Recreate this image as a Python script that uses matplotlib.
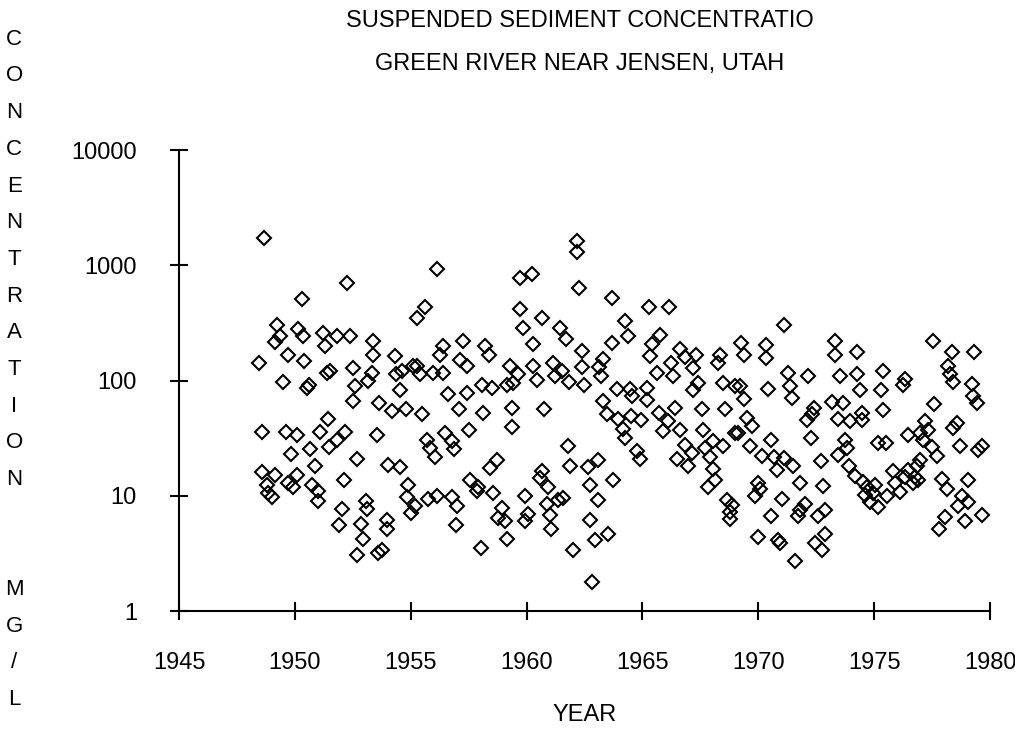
"""Suspended sediment concentration, Green River near Jensen, Utah (log scatter)."""

import matplotlib

matplotlib.use("Agg")

import matplotlib.pyplot as plt
from matplotlib.ticker import NullLocator

plt.rcParams["font.family"] = ["Liberation Sans", "DejaVu Sans"]

# sample dates (decimal year) and concentrations (mg/L)
year = [
    1948.68, 1950.30, 1949.24, 1949.36, 1949.14, 1950.15, 1950.34, 1951.20, 1951.30, 1949.72,
    1950.41, 1948.45, 1951.37, 1951.52, 1949.50, 1950.62, 1950.51, 1948.57, 1949.61, 1950.08,
    1951.09, 1951.44, 1951.49, 1949.83, 1950.65, 1950.87, 1948.57, 1949.14, 1948.79, 1948.85,
    1949.00, 1949.72, 1950.08, 1949.93, 1950.73, 1951.01, 1950.99,
    1952.24, 1956.15, 1955.62, 1955.26, 1951.81, 1952.38, 1953.39, 1953.39, 1954.32, 1954.61,
    1954.37, 1955.26, 1955.40, 1955.11, 1955.95, 1956.41, 1956.41, 1956.26, 1957.27, 1957.13,
    1957.42, 1952.50, 1953.32, 1953.17, 1952.60, 1952.50, 1954.54, 1953.64, 1954.18, 1954.80,
    1955.47, 1956.62, 1957.10, 1957.42, 1952.16, 1951.81, 1953.53, 1952.70, 1954.03, 1954.54,
    1955.72, 1955.83, 1956.05, 1956.48, 1956.77, 1956.87, 1957.53, 1952.12, 1954.90, 1954.85,
    1955.19, 1955.00, 1955.76, 1956.15, 1956.77, 1956.99, 1956.96, 1957.56, 1952.02, 1951.92,
    1953.07, 1953.10, 1952.84, 1952.95, 1952.70, 1953.96, 1953.96, 1953.75, 1953.60,
    1959.72, 1960.22, 1959.72, 1960.65, 1959.86, 1961.44, 1960.29, 1958.21, 1958.38, 1959.29,
    1959.64, 1959.43, 1959.14, 1960.29, 1960.44, 1961.15, 1961.23, 1958.06, 1958.50, 1958.13,
    1959.39, 1959.39, 1960.77, 1958.71, 1958.42, 1957.92, 1957.85, 1958.56, 1960.65, 1960.58,
    1960.91, 1959.93, 1960.87, 1961.37, 1958.93, 1958.78, 1959.07, 1960.08, 1959.93, 1961.01,
    1961.06, 1959.14, 1958.02,
    1962.16, 1962.16, 1962.26, 1963.68, 1961.70, 1964.25, 1964.37, 1963.68, 1962.38, 1963.31,
    1961.52, 1961.83, 1962.38, 1962.49, 1963.13, 1963.21, 1963.89, 1964.46, 1964.56, 1963.31,
    1963.46, 1963.96, 1964.51, 1964.94, 1964.18, 1964.25, 1964.75, 1964.90, 1961.80, 1961.88,
    1962.64, 1963.07, 1962.74, 1963.74, 1963.10, 1961.59, 1962.74, 1962.95, 1963.53, 1962.02,
    1962.84,
    1965.28, 1966.15, 1965.76, 1965.40, 1965.33, 1966.62, 1966.84, 1966.23, 1967.30, 1967.20,
    1968.35, 1968.25, 1965.62, 1966.33, 1967.41, 1967.20, 1968.49, 1969.00, 1965.19, 1965.19,
    1966.41, 1965.72, 1966.09, 1965.90, 1966.62, 1967.56, 1968.57, 1967.63, 1969.00, 1966.84,
    1967.13, 1966.48, 1966.98, 1967.70, 1968.06, 1968.49, 1967.92, 1968.06, 1968.13, 1967.84,
    1968.64, 1968.88, 1968.78, 1968.78,
    1971.12, 1969.26, 1969.40, 1970.32, 1970.32, 1971.27, 1972.16, 1971.37, 1971.47, 1970.43,
    1969.21, 1969.40, 1972.42, 1972.31, 1972.09, 1969.50, 1969.72, 1969.14, 1969.64, 1970.55,
    1972.28, 1970.15, 1970.69, 1971.12, 1971.51, 1970.80, 1972.71, 1970.00, 1970.08, 1969.86,
    1971.01, 1971.80, 1972.81, 1972.02, 1971.80, 1971.70, 1970.55, 1972.59, 1972.88, 1972.88,
    1972.45, 1972.74, 1969.98, 1970.87, 1970.94, 1971.59,
    1973.31, 1973.31, 1974.25, 1973.53, 1974.25, 1974.39, 1975.40, 1976.33, 1976.26, 1975.30,
    1973.17, 1973.67, 1973.45, 1973.96, 1974.46, 1974.46, 1975.40, 1976.48, 1973.74, 1973.82,
    1973.45, 1973.92, 1975.18, 1975.50, 1974.18, 1974.53, 1974.68, 1975.04, 1974.61, 1974.97,
    1974.82, 1975.18, 1975.54, 1975.83, 1975.90, 1976.12, 1976.33, 1976.48, 1976.69, 1976.84,
    1976.77,
    1977.56, 1978.37, 1979.32, 1978.18, 1978.28, 1978.42, 1979.21, 1979.28, 1979.43, 1977.60,
    1977.20, 1977.34, 1978.56, 1978.42, 1976.98, 1977.12, 1977.49, 1977.70, 1978.71, 1979.64,
    1979.50, 1976.98, 1976.91, 1977.92, 1978.13, 1979.07, 1978.78, 1979.07, 1978.63, 1979.64,
    1978.92, 1978.06, 1977.80,
]

conc = [
    1740, 513, 301, 243, 215, 278, 243, 260, 199, 168,
    149, 143, 117, 120, 97, 92, 87, 35.8, 35.8, 33.9,
    35.8, 46.4, 26.3, 23.1, 25.6, 18.0, 16.1, 15.0, 12.5, 10.6,
    9.7, 12.9, 15.2, 12.0, 12.5, 10.9, 9.05,
    707, 923, 437, 351, 243, 243, 220, 168, 163, 120,
    113, 135, 114, 133, 117, 117, 199, 168, 220, 152,
    133, 129, 117, 99, 89, 66, 82, 64, 54, 57,
    51, 76, 57, 78, 35.8, 30.3, 33.9, 20.9, 18.6, 17.8,
    30.7, 26.0, 21.7, 35.1, 29.7, 25.5, 37.5, 13.6, 12.3, 9.7,
    8.2, 7.1, 9.4, 10.0, 9.7, 8.1, 5.6, 13.8, 7.7, 5.6,
    9.05, 7.7, 5.7, 4.2, 3.07, 6.2, 5.1, 3.4, 3.2,
    782, 835, 414, 351, 287, 287, 206, 199, 168, 133,
    113, 95, 92, 135, 102, 143, 109, 92, 86, 52,
    58, 39.6, 57, 20.3, 17.4, 12.0, 10.9, 10.6, 16.3, 14.3,
    12.0, 10.0, 8.5, 9.2, 7.8, 6.4, 6.0, 7.0, 6.0, 6.8,
    5.2, 4.2, 3.55,
    1627, 1316, 631, 517, 230, 328, 243, 210, 180, 154,
    120, 97, 132, 92, 132, 110, 84, 84, 74, 66,
    51, 46.4, 49.6, 45.8, 38.0, 31.8, 24.3, 20.9, 26.8, 18.3,
    17.8, 20.3, 12.5, 13.8, 9.2, 9.5, 6.2, 4.1, 4.7, 3.4,
    1.8,
    437, 437, 246, 206, 163, 189, 161, 143, 168, 129,
    168, 143, 117, 109, 95, 82, 95, 89, 86, 68,
    58, 52, 44.3, 36.2, 37.5, 57, 57, 37.5, 35.1, 27.8,
    23.5, 20.9, 18.0, 26.0, 29.7, 26.8, 21.7, 17.1, 13.8, 12.0,
    9.2, 8.4, 7.2, 6.3,
    301, 210, 168, 202, 157, 117, 109, 89, 71, 84,
    90, 69, 58, 51, 45.8, 47, 40.6, 35.1, 26.8, 30.7,
    31.8, 22.0, 21.7, 21.3, 18.2, 16.6, 19.9, 12.9, 11.4, 9.9,
    9.4, 12.9, 12.2, 8.5, 7.6, 6.7, 6.7, 6.7, 7.5, 4.7,
    3.9, 3.4, 4.4, 4.1, 3.9, 2.74,
    220, 165, 176, 109, 113, 82, 120, 103, 92, 82,
    65, 64, 46.4, 44.3, 52, 45.8, 55, 33.9, 30.7, 26.0,
    22.7, 18.2, 28.7, 28.7, 14.9, 13.3, 12.0, 12.5, 10.2, 10.6,
    8.9, 8.0, 9.9, 16.3, 12.9, 10.7, 14.7, 16.8, 12.9, 18.0,
    14.7,
    220, 176, 176, 133, 113, 97, 94, 73, 64, 62,
    44.3, 37.5, 42.9, 38.8, 35.1, 30.7, 26.3, 22.0, 27.2, 27.2,
    25.1, 20.6, 13.8, 14.0, 11.4, 13.8, 10.0, 8.9, 8.1, 6.8,
    6.1, 6.6, 5.1,
]

x_ticks = [1945, 1950, 1955, 1960, 1965, 1970, 1975, 1980]
y_ticks = [1, 10, 100, 1000, 10000]
y_tick_labels = ["1", "10", "100", "1000", "10000"]

title_lines = ["SUSPENDED SEDIMENT CONCENTRATIO", "GREEN RIVER NEAR JENSEN, UTAH"]
y_label = "CONCENTRATION  MG/L"

fig = plt.figure(figsize=(10.15, 7.33), dpi=100)
ax = fig.add_axes([0.1764, 0.1664, 0.799, 0.6289])

ax.plot(year, conc, linestyle="none", marker="D", ms=7.5,
        mfc="none", mec="black", mew=1.5)

ax.set_yscale("log")
ax.set_xlim(1945, 1980)
ax.set_ylim(1, 10000)
ax.set_xticks(x_ticks)
ax.set_xticklabels([str(t) for t in x_ticks])
ax.set_yticks(y_ticks)
ax.set_yticklabels(y_tick_labels)
ax.yaxis.set_minor_locator(NullLocator())

for side in ("top", "right"):
    ax.spines[side].set_visible(False)
for side in ("left", "bottom"):
    ax.spines[side].set_linewidth(1.5)
    ax.spines[side].set_color("black")

ax.tick_params(direction="inout", length=12.7, width=1.5, labelsize=17, colors="black")
ax.tick_params(axis="x", pad=23)
ax.tick_params(axis="y", pad=24)

# title sits above the plot, two centred lines
fig.text(0.571, 0.972, title_lines[0], ha="center", va="center", fontsize=17)
fig.text(0.571, 0.913, title_lines[1], ha="center", va="center", fontsize=17)

# Excel-style stacked y label: one letter per line
fig.text(0.014, 0.496, "\n".join(y_label), ha="center", va="center",
         fontsize=16, linespacing=1.98)

fig.text(0.576, 0.024, "YEAR", ha="center", va="center", fontsize=17)

fig.savefig("out.png", dpi=100)
plt.close(fig)
